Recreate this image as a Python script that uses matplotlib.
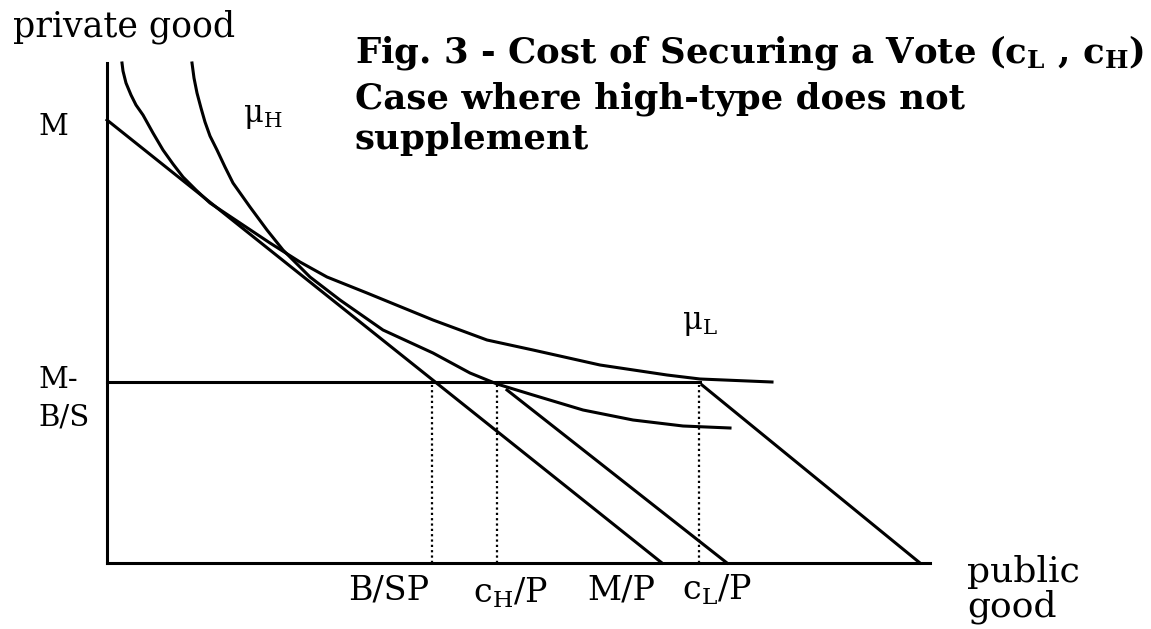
import matplotlib
matplotlib.use("Agg")
import matplotlib.pyplot as plt

plt.rcParams['font.family'] = ['DejaVu Serif']
plt.rcParams['mathtext.fontset'] = 'custom'
plt.rcParams['mathtext.rm'] = 'DejaVu Serif'
plt.rcParams['mathtext.bf'] = 'DejaVu Serif:bold'
plt.rcParams['mathtext.it'] = 'DejaVu Serif:italic'

# diagram values (origin at the corner of the axes)
M = 443            # intercept of the budget line
M_minus_BS = 181   # level of the horizontal line M - B/S
B_SP = 325
c_H_P = 390
c_L_P = 592
M_P = 555

budget_x = [0, M_P]
budget_y = [M, 0]
shift_H_x = [400, 620]
shift_H_y = [173, 0]
shift_L_x = [595, 813]
shift_L_y = [178, 0]
level_x = [0, 593]

mu_L_x = [15, 16, 19, 24, 29, 36, 46, 56, 66, 76, 89, 103, 118, 133, 163, 193, 220, 260, 326, 380, 426, 493, 560, 593, 665]
mu_L_y = [500, 492, 480, 468, 458, 448, 430, 413, 399, 386, 373, 360, 350, 340, 320, 301, 286, 270, 243, 223, 213, 198, 188, 184, 181]
mu_H_x = [85, 87, 90, 94, 98, 103, 110, 118, 126, 143, 160, 176, 203, 233, 276, 326, 363, 390, 426, 476, 526, 576, 623]
mu_H_y = [500, 485, 470, 455, 441, 427, 413, 396, 380, 356, 333, 313, 286, 263, 233, 210, 190, 179, 168, 153, 143, 137, 135]

W, H = 1151, 629
fig = plt.figure(figsize=(W / 100, H / 100), dpi=100)
ax = fig.add_axes([107 / W, 66 / H, 823 / W, 500 / H])
ax.set_xlim(0, 823)
ax.set_ylim(0, 500)
for s in ['top', 'right']:
    ax.spines[s].set_visible(False)
for s in ['left', 'bottom']:
    ax.spines[s].set_linewidth(2.2)
ax.set_xticks([])
ax.set_yticks([])

lw = 2.2
ax.plot(budget_x, budget_y, color='black', lw=lw, clip_on=False)
ax.plot(shift_H_x, shift_H_y, color='black', lw=lw, clip_on=False)
ax.plot(shift_L_x, shift_L_y, color='black', lw=lw, clip_on=False)
ax.plot(level_x, [M_minus_BS, M_minus_BS], color='black', lw=lw, clip_on=False)
ax.plot(mu_L_x, mu_L_y, color='black', lw=lw, clip_on=False, solid_joinstyle='round')
ax.plot(mu_H_x, mu_H_y, color='black', lw=lw, clip_on=False, solid_joinstyle='round')
for xv in [B_SP, c_H_P, c_L_P]:
    ax.plot([xv, xv], [0, M_minus_BS - 3], color='black', lw=1.6,
            linestyle=(0, (1, 1.4)), clip_on=False)


def txt(x, y, s, size, **kw):
    fig.text(x / W, 1 - y / H, s, fontsize=size, ha='left', va='baseline', **kw)


txt(13, 37, 'private good', 25)
txt(38, 135, 'M', 21)
txt(38, 388, 'M-', 21)
txt(38, 425, 'B/S', 21)
txt(243, 122, r'$\mathrm{μ}_{\mathrm{H}}$', 22)
txt(682, 329, r'$\mathrm{μ}_{\mathrm{L}}$', 22)
txt(348, 600, 'B/SP', 24)
txt(473, 603, r'c$_{\mathrm{H}}$/P', 24)
txt(587, 600, 'M/P', 24)
txt(682, 600, r'c$_{\mathrm{L}}$/P', 24)
txt(967, 582, 'public', 26)
txt(967, 617, 'good', 26)

tsize = 25.6
txt(355, 62, r'Fig. 3 - Cost of Securing a Vote (c$_\mathbf{L}$ , c$_\mathbf{H}$)', tsize, fontweight='bold')
txt(355, 108, 'Case where high-type does not', tsize, fontweight='bold')
txt(355, 149, 'supplement', tsize, fontweight='bold')

fig.savefig('out.png', dpi=100)
